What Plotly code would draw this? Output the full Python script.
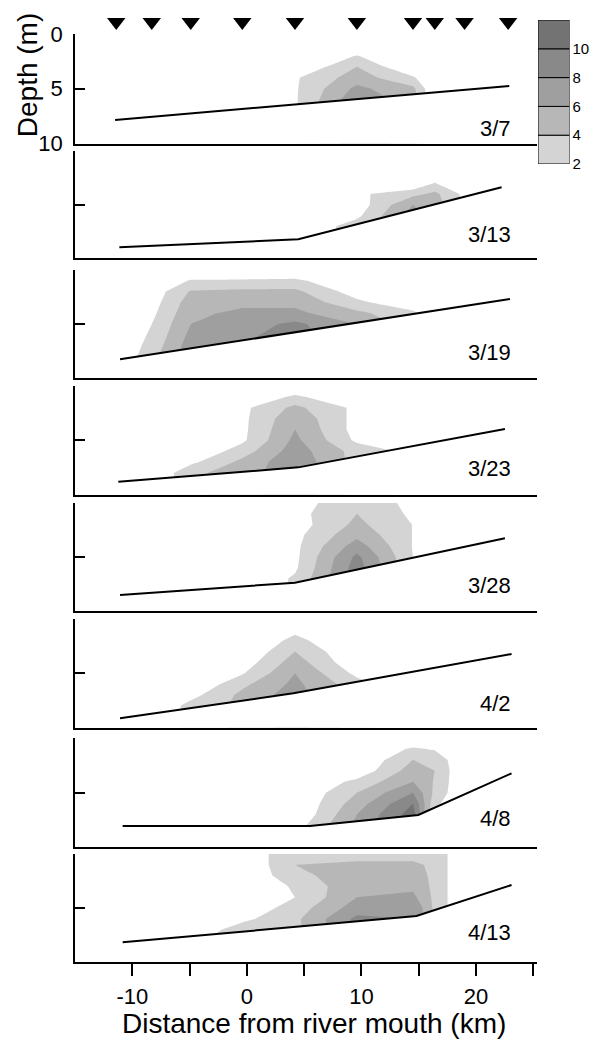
import numpy as np
import plotly.graph_objects as go

# ---------------- data ----------------
stations_km = [-11.4, -8.3, -4.9, -0.4, 4.2, 9.6, 14.5, 16.4, 19.0, 22.8]
depth_levels_m = [0, 1, 2, 3, 4, 5, 6, 7, 8, 9, 10]
dates = ["3/7", "3/13", "3/19", "3/23", "3/28", "4/2", "4/8", "4/13"]

clear = [0, 0, 0, 0, 0, 0, 0, 0, 0, 0, 0]

# concentration profiles, one per station (depth 0..10 m)
conc_0307 = [clear, clear, clear, clear,
             [0, 0, 0, 0, 1.75, 1.75, 1.75, 1.75, 1.75, 1.75, 1.75],
             [0, 0, 2.1, 4, 5, 6.5, 7.5, 7.5, 7.5, 7.5, 7.5],
             [0, 0, 0, 0, 2.3, 4.5, 5, 5, 5, 5, 5],
             clear, clear, clear]
conc_0313 = [clear, clear, clear, clear, clear,
             [0, 0, 0, 0, 1.55, 0.8, 1.5, 3, 3, 3, 3],
             [0, 0, 0, 0, 3.4, 6, 7, 7, 7, 7, 7],
             [0, 0, 0, 2.1, 4.5, 5, 5, 5, 5, 5, 5],
             [0, 0, 0, 0, 1.5, 1.5, 1.5, 1.5, 1.5, 1.5, 1.5],
             clear]
conc_0319 = [clear,
             [0, 0, 0.76, 1.1, 1.5, 2.0, 2.35, 2.8, 3.4, 3.4, 3.4],
             [0, 2.2, 4.2, 5, 5.5, 6, 6.5, 7, 7, 7, 7],
             [0, 2.3, 4.5, 5.5, 6.5, 7, 7.5, 8, 8, 8, 8],
             [0, 2.5, 4.5, 5.5, 6.5, 8.5, 9, 9, 9, 9, 9],
             [0, 0, 1.0, 2.5, 4.5, 6, 6, 6, 6, 6, 6],
             [0, 0, 0, 0.5, 2.5, 3, 3, 3, 3, 3, 3],
             clear, clear, clear]
conc_0323 = [clear, clear,
             [0, 0, 0, 0, 0, 0, 0, 1.5, 3.5, 3.5, 3.5],
             [0, 0, 1.5, 1.5, 1.5, 1.6, 3, 4.5, 5, 5, 5],
             [0, 2.4, 4.5, 5.5, 6, 6.5, 7, 7.5, 7.5, 7.5, 7.5],
             [0, 0, 1.5, 1.3, 1.2, 1.6, 3.2, 3.2, 3.2, 3.2, 3.2],
             [0, 0, 0, 0, 0, 1, 1.4, 1.4, 1.4, 1.4, 1.4],
             clear, clear, clear]
conc_0328 = [clear, clear, clear, clear,
             [1.4, 1.3, 1.0, 1.4, 1.5, 1.5, 1.65, 2.3, 2.3, 2.3, 2.3],
             [3, 4, 4.5, 5.5, 7, 8.5, 9, 9, 9, 9, 9],
             [1.6, 1.6, 1.95, 1.93, 1.9, 2.0, 2.0, 2.0, 2.0, 2.0, 2.0],
             clear, clear, clear]
conc_0402 = [clear, clear,
             [0, 0, 0, 0, 0, 0, 0, 1.3, 2.7, 2.7, 2.7],
             [0, 0, 0, 0, 0.8, 1.8, 3.5, 4.5, 4.5, 4.5, 4.5],
             [0, 1.5, 2.6, 4, 5, 6, 6.5, 7, 7, 7, 7],
             [0, 0, 0, 0, 0.4, 1.5, 2.8, 2.8, 2.8, 2.8, 2.8],
             clear, clear, clear, clear]
conc_0408 = [clear, clear, clear, clear,
             [0, 0, 0, 0, 0, 0, 0, 0, 1.0, 1.0, 1.0],
             [0, 0, 0, 0.5, 2.5, 4, 5, 6, 6.5, 6.5, 6.5],
             [0, 2.3, 4, 5, 6, 8, 10, 11, 11, 11, 11],
             [0, 1.8, 3.5, 4, 3.8, 3.5, 2.5, 1.5, 1.5, 1.5, 1.5],
             clear, clear]
conc_0413 = [clear, clear,
             [0, 0, 0, 0, 0, 0, 0, 0.5, 1.5, 1.5, 1.5],
             [0, 0, 0, 0, 0, 0.5, 1.5, 3, 3, 3, 3],
             [4, 4, 3.5, 2.3, 2.0, 2.9, 3.5, 3.5, 3.5, 3.5, 3.5],
             [3, 4.5, 5, 5.5, 6, 7, 8.5, 8.5, 8.5, 8.5, 8.5],
             [3, 4.5, 5, 5.5, 6.5, 8, 8, 8, 8, 8, 8],
             [3.5, 3.5, 3.5, 3.5, 3.5, 3.5, 3.5, 3.5, 3.5, 3.5, 3.5],
             clear, clear]
concentrations = [conc_0307, conc_0313, conc_0319, conc_0323,
                  conc_0328, conc_0402, conc_0408, conc_0413]

# sea-bed profiles (distance km, depth m)
bed_x_0307 = [-11.5, 22.9];                    bed_d_0307 = [7.85, 4.75]
bed_x_0313 = [-11.13, 4.49, 22.23];            bed_d_0313 = [8.97, 8.23, 3.38]
bed_x_0319 = [-11.07, 22.96];                  bed_d_0319 = [8.25, 2.68]
bed_x_0323 = [-11.22, 4.49, 22.52];            bed_d_0323 = [8.82, 7.5, 3.96]
bed_x_0328 = [-11.07, 4.2, 22.52];             bed_d_0328 = [8.52, 7.38, 3.27]
bed_x_0402 = [-11.07, 4.05, 23.1];             bed_d_0402 = [9.15, 6.85, 3.23]
bed_x_0408 = [-10.84, 5.5, 14.96, 23.1];       bed_d_0408 = [8.05, 8.05, 7.04, 3.23]
bed_x_0413 = [-10.84, 14.8, 23.1];             bed_d_0413 = [8.18, 5.74, 2.87]
bed_x = [bed_x_0307, bed_x_0313, bed_x_0319, bed_x_0323,
         bed_x_0328, bed_x_0402, bed_x_0408, bed_x_0413]
bed_d = [bed_d_0307, bed_d_0313, bed_d_0319, bed_d_0323,
         bed_d_0328, bed_d_0402, bed_d_0408, bed_d_0413]

cbar_levels = [2, 4, 6, 8, 10]
cbar_top = 12
x_ticks = [-10, -5, 0, 5, 10, 15, 20, 25]
x_ticklabels = ["-10", "", "0", "", "10", "", "20", ""]

# ---------------- style / layout ----------------
W, H = 597, 1040
FONT = "Liberation Sans, Arial, sans-serif"
band_colors = ["#d4d4d4", "#b7b7b7", "#9f9f9f", "#898989", "#737373"]
panel_top_px = [34, 151, 270, 386, 503, 619, 738, 854]
panel_bot_px = [143.5, 258.3, 378.3, 494.5, 611, 727.5, 847.3, 962]
label_depth = [8.6, 7.8, 7.6, 7.6, 7.65, 7.8, 7.4, 7.3]
x_dom = [75 / W, 537 / W]
x_range = [-15, 25.32]

colorscale = [[0.0, "#ffffff"]] + [[0.2 * (k + 1), c] for k, c in enumerate(band_colors)]

fig = go.Figure()
layout = dict(width=W, height=H, autosize=False,
              margin=dict(l=0, r=0, t=0, b=0, pad=0, autoexpand=False),
              paper_bgcolor="white", plot_bgcolor="white", showlegend=False,
              font=dict(family=FONT, color="black", size=22))
annotations = []

for i in range(8):
    n = i + 1
    xa = "x" if n == 1 else f"x{n}"
    ya = "y" if n == 1 else f"y{n}"
    z = np.array(concentrations[i], dtype=float).T  # rows = depth
    fig.add_trace(go.Contour(
        x=stations_km, y=depth_levels_m, z=z, xaxis=xa, yaxis=ya,
        colorscale=colorscale, showscale=False,
        contours=dict(start=2, end=10, size=2, coloring="fill", showlines=False),
        line=dict(width=0, smoothing=0), hoverinfo="skip"))
    # white mask below the sea bed
    mx = [x_range[0]] + bed_x[i] + [x_range[1], x_range[1], x_range[0]]
    my = [bed_d[i][0]] + bed_d[i] + [bed_d[i][-1], 10.6, 10.6]
    fig.add_trace(go.Scatter(x=mx, y=my, xaxis=xa, yaxis=ya, mode="lines",
                             fill="toself", fillcolor="white",
                             line=dict(width=0, color="white"), hoverinfo="skip"))
    fig.add_trace(go.Scatter(x=bed_x[i], y=bed_d[i], xaxis=xa, yaxis=ya,
                             mode="lines", line=dict(color="black", width=2),
                             hoverinfo="skip"))
    ydom = [1 - panel_bot_px[i] / H, 1 - panel_top_px[i] / H]
    xkey = "xaxis" if n == 1 else f"xaxis{n}"
    ykey = "yaxis" if n == 1 else f"yaxis{n}"
    xa_d = dict(domain=x_dom, range=x_range, anchor=ya, showgrid=False,
                zeroline=False, showline=True, linecolor="black", linewidth=1.5,
                automargin=False)
    if n == 8:
        xa_d.update(ticks="outside", ticklen=12, tickwidth=1.5, tickcolor="black",
                    tickvals=x_ticks, ticktext=x_ticklabels,
                    tickfont=dict(size=22), ticklabelstandoff=2)
    else:
        xa_d.update(ticks="", showticklabels=False)
    layout[xkey] = xa_d
    ya_d = dict(domain=ydom, range=[10, 0], anchor=xa, showgrid=False,
                zeroline=False, showline=True, linecolor="black", linewidth=1.5,
                ticks="inside", ticklen=10, tickwidth=1.5, tickcolor="black",
                automargin=False)
    if n == 1:
        ya_d.update(tickvals=[0, 5, 10], ticktext=["0", "5", "10"],
                    tickfont=dict(size=22), ticklabelstandoff=6)
    else:
        ya_d.update(tickvals=[0, 5], showticklabels=False)
    layout[ykey] = ya_d
    annotations.append(dict(x=23.2, y=label_depth[i], xref=xa, yref=ya,
                            text=dates[i], showarrow=False, xanchor="right",
                            yanchor="middle", font=dict(size=22)))

# station triangles above the first panel (own strip axis)
fig.add_trace(go.Scatter(x=stations_km, y=[0.5] * len(stations_km),
                         xaxis="x10", yaxis="y10", mode="markers",
                         marker=dict(symbol="triangle-down", size=16, color="black"),
                         hoverinfo="skip"))
layout["xaxis10"] = dict(domain=x_dom, range=x_range, visible=False, anchor="y10")
layout["yaxis10"] = dict(domain=[1 - 36 / H, 1 - 8 / H], range=[0, 1],
                         visible=False, anchor="x10")

# colour key
fig.add_trace(go.Bar(x=[0] * len(cbar_levels),
                     y=list(np.diff(cbar_levels + [cbar_top])),
                     base=cbar_levels, width=1, xaxis="x9", yaxis="y9",
                     marker=dict(color=band_colors, line=dict(color="black", width=1)),
                     hoverinfo="skip"))
layout["xaxis9"] = dict(domain=[538 / W, 569.5 / W], range=[-0.5, 0.5],
                        visible=False, anchor="y9")
layout["yaxis9"] = dict(domain=[1 - 164 / H, 1 - 20 / H], range=[2, cbar_top],
                        anchor="x9", side="right", showgrid=False, zeroline=False,
                        showline=False, ticks="", tickvals=cbar_levels,
                        tickfont=dict(size=15), ticklabelstandoff=2,
                        automargin=False)
layout["barmode"] = "overlay"

annotations.append(dict(x=27.5 / W, y=1 - 75.7 / H, xref="paper", yref="paper",
                        text="Depth (m)", textangle=-90, showarrow=False,
                        xanchor="center", yanchor="middle", font=dict(size=28)))
annotations.append(dict(x=314 / W, y=1 - 1023 / H, xref="paper", yref="paper",
                        text="Distance from river mouth (km)", showarrow=False,
                        xanchor="center", yanchor="middle", font=dict(size=28)))
layout["annotations"] = annotations
fig.update_layout(**layout)

fig.write_html("out.html", config={"displayModeBar": False},
               post_script="document.body.style.margin='0';document.body.style.overflow='hidden';")
